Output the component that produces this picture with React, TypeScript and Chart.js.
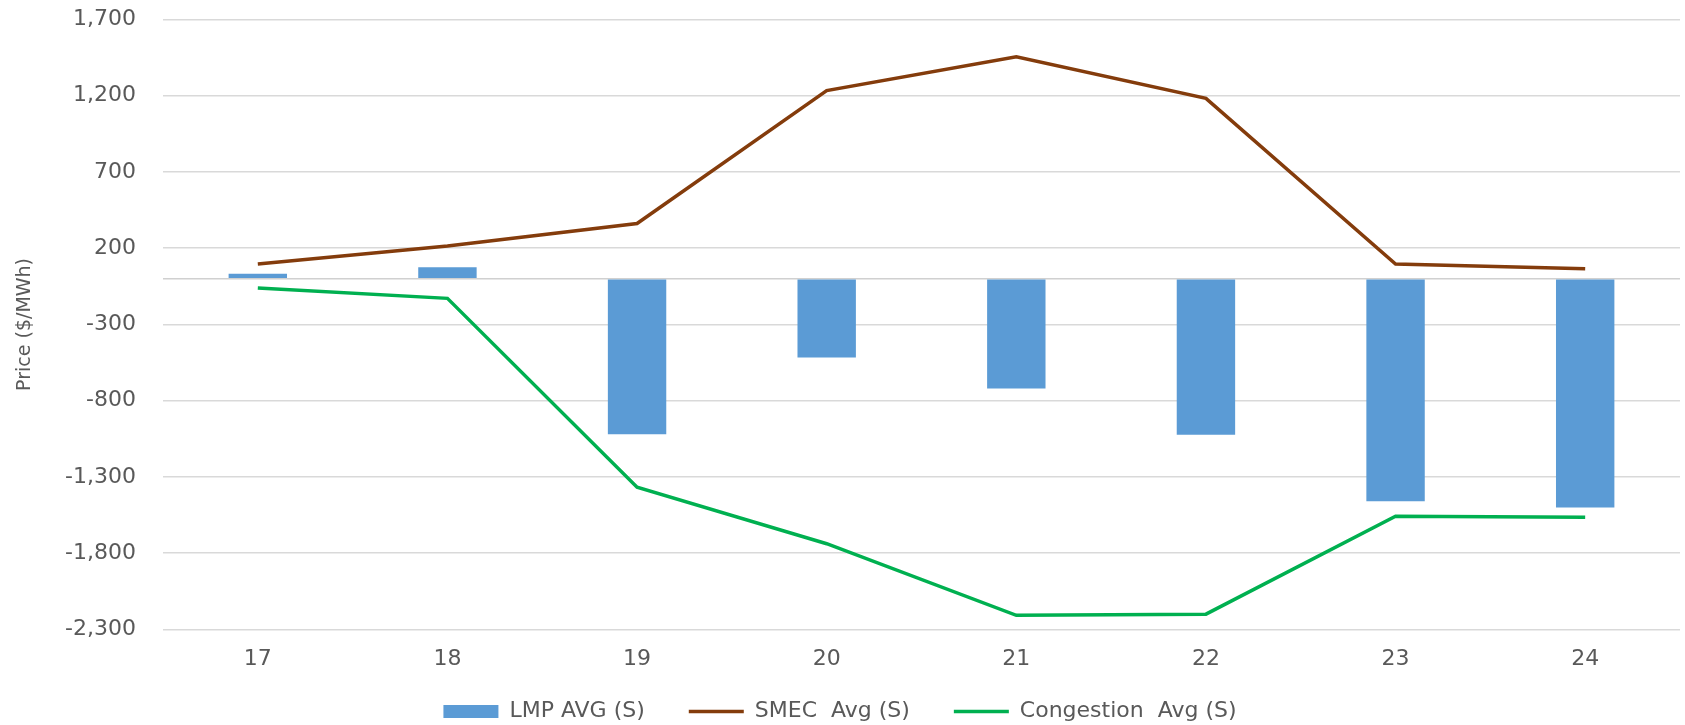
import React, { useEffect, useRef } from "react";
import { Chart, registerables } from "chart.js";

Chart.register(...registerables);

const categories = ["17", "18", "19", "20", "21", "22", "23", "24"];
const lmpAvg = [33, 75, -1020, -516, -720, -1023, -1460, -1500];
const smecAvg = [97, 214, 362, 1234, 1455, 1183, 96, 65];
const congestionAvg = [-61, -129, -1368, -1738, -2208, -2200, -1558, -1565];
const yTickValues = [-2300, -1800, -1300, -800, -300, 0, 200, 700, 1200, 1700];
const yTickLabels = ["-2,300", "-1,800", "-1,300", "-800", "-300", "", "200", "700", "1,200", "1,700"];

const FONT = "'DejaVu Sans'";
const TEXT = "#595959";

const unclipXLabels = {
  id: "unclipXLabels",
  afterLayout(chart: any) {
    const x = chart.scales.x;
    if (x) {
      x.bottom = x.top + 60;
    }
  },
};

export default function App() {
  const ref = useRef<HTMLCanvasElement | null>(null);

  useEffect(() => {
    document.body.style.margin = "0";
    const canvas = ref.current;
    if (!canvas) return;
    const chart = new Chart(canvas, {
      type: "bar",
      data: {
        labels: categories,
        datasets: [
          {
            type: "bar",
            label: "LMP AVG (S)",
            data: lmpAvg,
            backgroundColor: "#5B9BD5",
            borderWidth: 0,
            categoryPercentage: 1,
            barPercentage: 0.308,
            pointStyle: "rect",
          },
          {
            type: "line",
            label: "SMEC  Avg (S)",
            data: smecAvg,
            borderColor: "#843C0C",
            backgroundColor: "#843C0C",
            borderWidth: 3.5,
            pointRadius: 0,
            tension: 0,
            pointStyle: "line",
          },
          {
            type: "line",
            label: "Congestion  Avg (S)",
            data: congestionAvg,
            borderColor: "#00B050",
            backgroundColor: "#00B050",
            borderWidth: 3.5,
            pointRadius: 0,
            tension: 0,
            pointStyle: "line",
          },
        ],
      },
      plugins: [unclipXLabels],
      options: {
        animation: false,
        responsive: false,
        maintainAspectRatio: false,
        layout: { padding: { left: 0, right: 5, top: 19.5, bottom: -7.4 } },
        plugins: {
          tooltip: { enabled: false },
          legend: {
            position: "bottom",
            labels: {
              usePointStyle: true,
              pointStyleWidth: 55,
              boxHeight: 13,
              padding: 44,
              color: TEXT,
              font: { family: FONT, size: 22 },
              sort: (a: any, b: any) => a.datasetIndex - b.datasetIndex,
            },
          },
        },
        scales: {
          x: {
            type: "category",
            offset: true,
            grid: { display: false, drawTicks: false },
            border: { display: false },
            ticks: { color: TEXT, font: { family: FONT, size: 22 }, padding: 17 },
            afterFit: (scale: any) => {
              scale.height = 27;
            },
          },
          y: {
            type: "linear",
            min: -2300,
            max: 1700,
            afterBuildTicks: (scale: any) => {
              scale.ticks = yTickValues.map((v) => ({ value: v }));
            },
            afterFit: (scale: any) => {
              scale.width = 163;
              scale.paddingTop = 0;
              scale.paddingBottom = 0;
            },
            grid: {
              drawTicks: false,
              color: (ctx: any) => (ctx.tick && ctx.tick.value === 0 ? "#D0D0D0" : "#D9D9D9"),
              lineWidth: 1.5,
            },
            border: { display: false },
            ticks: {
              color: TEXT,
              font: { family: FONT, size: 22 },
              padding: 27,
              callback: (value: any) => {
                const i = yTickValues.indexOf(Number(value));
                return i >= 0 ? yTickLabels[i] : "";
              },
            },
            title: {
              display: true,
              text: "Price ($/MWh)",
              color: TEXT,
              font: { family: FONT, size: 19 },
              padding: { top: 14, bottom: 0 },
            },
          },
        },
      },
    });
    return () => chart.destroy();
  }, []);

  return (
    <div style={{ position: "absolute", left: 0, top: 0, width: 1685, height: 725, background: "#fff" }}>
      <canvas ref={ref} width={1685} height={725} style={{ display: "block", width: 1685, height: 725 }} />
    </div>
  );
}
